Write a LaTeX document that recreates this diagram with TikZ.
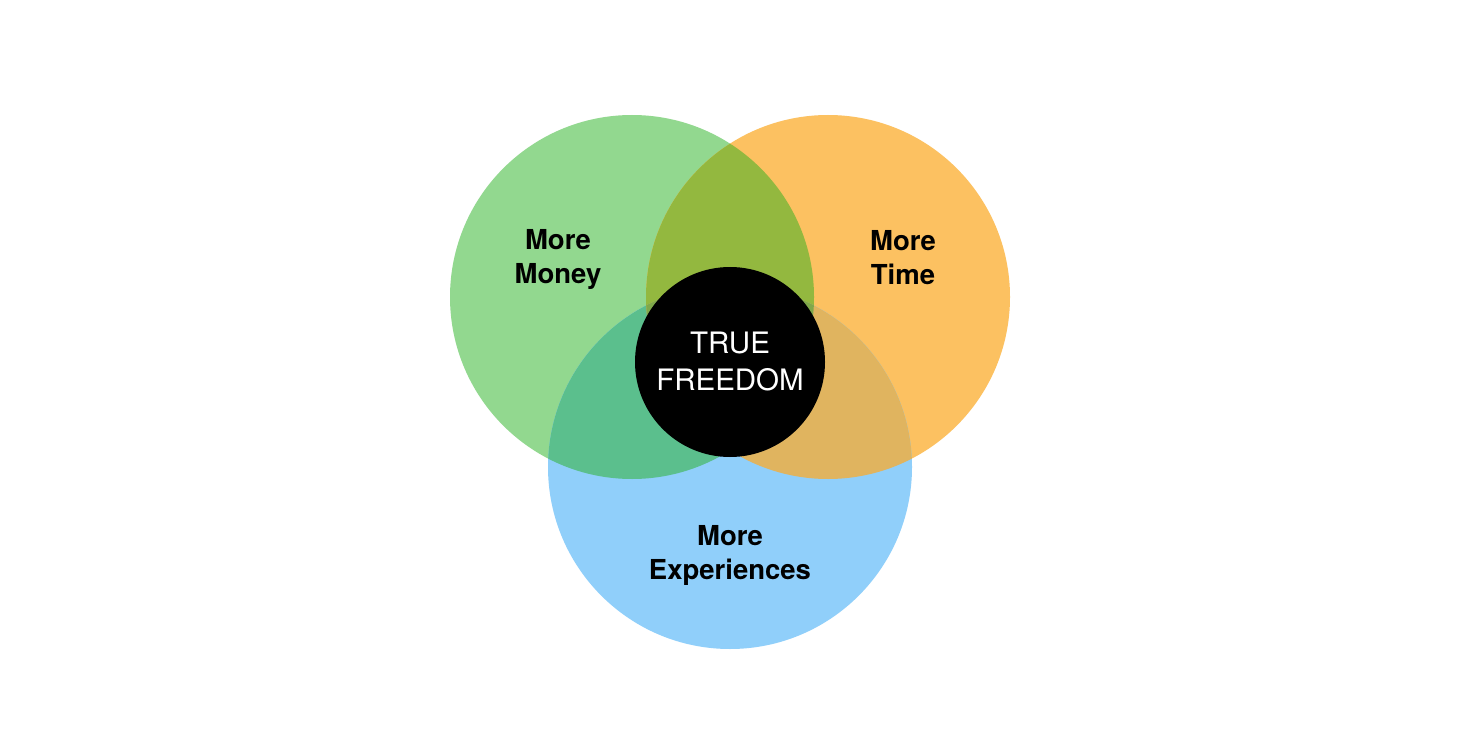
\documentclass[tikz,border=0pt]{standalone}
\usepackage{fontspec}
\setmainfont{TeX Gyre Heros}
\definecolor{cgreen}{HTML}{92D88F}
\definecolor{corange}{HTML}{FCC161}
\definecolor{cblue}{HTML}{90CFFA}
\definecolor{cgo}{HTML}{93B83F}
\definecolor{cgb}{HTML}{5BBF8D}
\definecolor{cob}{HTML}{E0B45F}
\definecolor{cgob}{HTML}{7FA84A}
\tikzset{
  lbl/.style={align=center, inner sep=0pt, font=\fontsize{27.5}{34}\selectfont\bfseries, text=black},
  core/.style={circle, fill=black, minimum size=190pt, inner sep=0pt, align=center,
    font=\fontsize{29.5}{37}\selectfont, text=white}
}
\begin{document}
\begin{tikzpicture}[x=1pt,y=-1pt]
\useasboundingbox (0,0) rectangle (1458,751);
\fill[white] (0,0) rectangle (1458,751);
\coordinate (G) at (632,297);
\coordinate (O) at (828,297);
\coordinate (B) at (730,467);
\def\R{182}
\fill[cgreen] (G) circle (\R);
\fill[corange] (O) circle (\R);
\fill[cblue] (B) circle (\R);
\begin{scope}
  \clip (G) circle (\R);
  \fill[cgo] (O) circle (\R);
  \fill[cgb] (B) circle (\R);
\end{scope}
\begin{scope}
  \clip (O) circle (\R);
  \fill[cob] (B) circle (\R);
  \clip (G) circle (\R);
  \fill[cgob] (B) circle (\R);
\end{scope}
\node[core] (tf) at (730,362) {TRUE\\FREEDOM};
\node[lbl] (money) at (558,259) {More\\Money};
\node[lbl] (time) at (903,258) {More\\Time};
\node[lbl] (exp) at (730,555) {More\\Experiences};
\end{tikzpicture}
\end{document}
